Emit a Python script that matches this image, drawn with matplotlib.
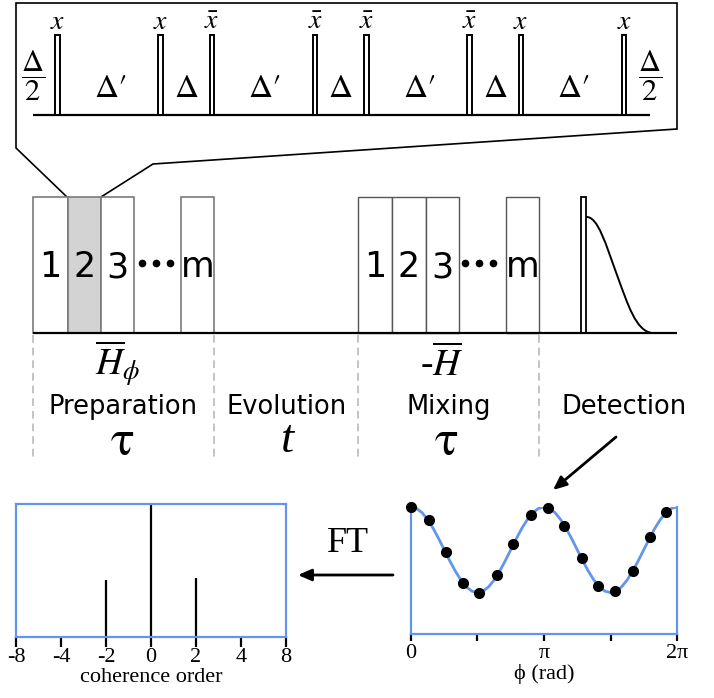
import numpy as np
import matplotlib
matplotlib.use('Agg')
import matplotlib.pyplot as plt
from matplotlib.patches import Rectangle, Polygon, PathPatch
from matplotlib.path import Path

plt.rcParams['mathtext.fontset'] = 'stix'
SERIF = 'Liberation Serif'
STIX = 'STIXGeneral'
SANS = 'DejaVu Sans'
BLUE = '#6495ED'

# ---------------- data ----------------
pulse_phases = [r'$x$', r'$x$', r'$\bar{x}$', r'$\bar{x}$', r'$\bar{x}$', r'$\bar{x}$', r'$x$', r'$x$']
delay_labels = [r'$\dfrac{\Delta}{2}$', 'Δ′', 'Δ', 'Δ′', 'Δ', 'Δ′', 'Δ', 'Δ′', r'$\dfrac{\Delta}{2}$']
cycle_labels = ['1', '2', '3', 'm']
period_names = ['Preparation', 'Evolution', 'Mixing', 'Detection']
period_symbols = ['τ', 't', 'τ']
hamiltonians = [r'$\overline{H}_{\phi}$', r'-$\overline{H}$']

coherence_ticks = [-8, -4, -2, 0, 2, 4, 8]
coherence_orders = [-2, 0, 2]
coherence_amps = [0.43, 1.0, 0.44]

phi_dots_over_pi = [0, 0.1325, 0.2625, 0.39, 0.5125, 0.645, 0.77, 0.9, 1.0275,
                    1.1525, 1.2825, 1.4075, 1.5375, 1.67, 1.795, 1.92]
signal_dots = [1.0, 0.895, 0.642, 0.405, 0.326, 0.461, 0.711, 0.939, 0.989,
               0.853, 0.595, 0.379, 0.342, 0.5, 0.763, 0.961]
fit_half = [1.000, 0.989, 0.955, 0.901, 0.832, 0.750, 0.663, 0.576, 0.495, 0.425,
            0.371, 0.337, 0.326, 0.337, 0.371, 0.425, 0.495, 0.576, 0.663, 0.750,
            0.832, 0.901, 0.955, 0.989]
fit_curve = fit_half + fit_half + [1.000]
phase_ticks_over_pi = [0, 0.5, 1, 1.5, 2]
phase_tick_labels = ['0', '', 'π', '', '2π']

# ---------------- figure ----------------
W, H = 714, 698
fig = plt.figure(figsize=(W / 100, H / 100), dpi=100)
ax = fig.add_axes([0, 0, 1, 1])
ax.set_xlim(0, W)
ax.set_ylim(H, 0)
ax.axis('off')

# ---- inset (zoomed cycle) ----
outline = [(67, 197), (16, 148), (16, 3), (677, 3), (677, 129), (153, 164), (101, 197)]
ax.add_patch(Polygon(outline, closed=False, fill=False, ec='black', lw=1.2))

base_y, top_y = 115, 35
x_start, x_end = 33, 650
half, dl, d = 24.5, 103.2, 51.3
intervals = [half, dl, d, dl, d, dl, d, dl]
centers = []
pos = x_start
for iv in intervals:
    pos += iv
    centers.append(pos)
ax.plot([x_start, x_end], [base_y, base_y], color='black', lw=1.6, solid_capstyle='butt')
pw = 4.5
for c, lab in zip(centers, pulse_phases):
    ax.add_patch(Rectangle((c - pw / 2, top_y), pw, base_y - top_y, fc='white', ec='black', lw=1.4, zorder=3))
    ax.text(c, 29, lab, ha='center', va='baseline', fontsize=20)
edges = [x_start] + centers + [x_end]
n = len(delay_labels)
for i, lab in enumerate(delay_labels):
    if i == 0:
        ax.text(33, 76, lab, ha='center', va='center', fontsize=22)
    elif i == n - 1:
        ax.text(650, 76, lab, ha='center', va='center', fontsize=22)
    else:
        xm = (edges[i] + edges[i + 1]) / 2
        ax.text(xm + (2 if '′' in lab else 0), 97, lab, ha='center', va='baseline', fontsize=24, family=STIX)

# ---- middle sequence ----
seq_base, seq_top = 333, 197
ax.plot([33, 677], [seq_base, seq_base], color='black', lw=1.6, solid_capstyle='butt', zorder=4)
prep_blocks = [(33, 68), (68, 101), (101, 134), (181, 214)]
mix_blocks = [(358, 392), (392, 426), (426, 459), (506, 539)]
for i, (x0, x1) in enumerate(prep_blocks):
    ax.add_patch(Rectangle((x0, seq_top), x1 - x0, seq_base - seq_top,
                           fc='#d3d3d3' if i == 1 else 'white', ec='#7a7a7a', lw=1.2, zorder=2))
    ax.text((x0 + x1) / 2, 267, cycle_labels[i], ha='center', va='center', fontsize=25, family=SANS, zorder=3)
for i, (x0, x1) in enumerate(mix_blocks):
    ax.add_patch(Rectangle((x0, seq_top), x1 - x0, seq_base - seq_top,
                           fc='white', ec='#555555', lw=1.0, zorder=2))
    ax.text((x0 + x1) / 2, 267, cycle_labels[i], ha='center', va='center', fontsize=25, family=SANS, zorder=3)
ax.plot([142, 156, 170], [263, 263, 263], 'o', color='black', ms=4.5, zorder=3)
ax.plot([465, 479, 493], [263, 263, 263], 'o', color='black', ms=4.5, zorder=3)

# detection pulse + FID
ax.add_patch(Rectangle((581, 197), 5, seq_base - 197, fc='white', ec='black', lw=1.3, zorder=3))
verts = [(586, 217), (598, 216), (606, 245), (617, 275), (628, 305), (636, 331), (652, 333)]
codes = [Path.MOVETO] + [Path.CURVE4] * 6
ax.add_patch(PathPatch(Path(verts, codes), fill=False, ec='black', lw=1.4, zorder=3))

# dashed separators
for xv in [33, 214, 358, 539]:
    ax.plot([xv, xv], [335, 458], color='#c4c4c4', lw=1.4, ls=(0, (4, 2.5)), zorder=1)

# labels
ax.text(118, 363, hamiltonians[0], ha='center', va='center', fontsize=27)
ax.text(442, 365, hamiltonians[1], ha='center', va='center', fontsize=27,
        family=SERIF, style='italic')
name_x = [123, 287, 449, 624]
for nx, nm in zip(name_x, period_names):
    ax.text(nx, 407, nm, ha='center', va='center', fontsize=18.5, family=SANS)
sym_x = [123, 287, 447]
for sx, sy in zip(sym_x, period_symbols):
    if sy == 't':
        ax.text(sx, 441, sy, ha='center', va='center', fontsize=34, family=SERIF, style='italic')
    else:
        ax.text(sx, 443, sy, ha='center', va='center', fontsize=36, family=STIX)

# arrows
ax.annotate('', xy=(553, 490), xytext=(616, 437),
            arrowprops=dict(arrowstyle='-|>,head_length=0.8,head_width=0.35', color='black', lw=2, shrinkA=0, shrinkB=0))
ax.annotate('', xy=(298, 575), xytext=(393, 575),
            arrowprops=dict(arrowstyle='-|>,head_length=0.8,head_width=0.35', color='black', lw=2, shrinkA=0, shrinkB=0))
ax.text(348, 543, 'FT', ha='center', va='center', fontsize=26, family=SERIF)

# ---- coherence order spectrum ----
def fax(l, r, t, b):
    return fig.add_axes([l / W, 1 - b / H, (r - l) / W, (b - t) / H])

ax1 = fax(16, 286, 504, 637)
tick_pos = list(range(len(coherence_ticks)))
stem_pos = [coherence_ticks.index(o) for o in coherence_orders]
ax1.vlines(stem_pos, 0, coherence_amps, color='black', lw=1.6)
ax1.set_xlim(0, len(coherence_ticks) - 1)
ax1.set_ylim(0, 1)
ax1.set_xticks(tick_pos)
ax1.set_xticklabels([str(t) for t in coherence_ticks], family=SERIF, fontsize=16)
ax1.set_yticks([])
for s in ax1.spines.values():
    s.set_color(BLUE)
    s.set_linewidth(1.6)
ax1.tick_params(axis='x', direction='out', length=7, width=1.6, color='black', pad=1)
ax1.set_xlabel('coherence order', family=SERIF, fontsize=16, labelpad=1)

# ---- phase signal ----
ax2 = fax(411, 677, 507, 634)
phi_curve = np.linspace(0, 2 * np.pi, len(fit_curve))
ax2.plot(phi_curve, fit_curve, color=BLUE, lw=2, zorder=2)
ax2.plot(np.array(phi_dots_over_pi) * np.pi, signal_dots, 'o', color='black', ms=7, zorder=3, clip_on=False)
ax2.set_xlim(0, 2 * np.pi)
ax2.set_ylim(0, 1)
ax2.set_xticks(np.array(phase_ticks_over_pi) * np.pi)
ax2.set_xticklabels(phase_tick_labels, family=SERIF, fontsize=16)
ax2.set_yticks([])
ax2.spines['top'].set_visible(False)
for k in ['left', 'right', 'bottom']:
    ax2.spines[k].set_color(BLUE)
    ax2.spines[k].set_linewidth(1.6)
ax2.tick_params(axis='x', direction='out', length=5, width=1.6, color='black', pad=2)
ax2.set_xlabel('ϕ (rad)', family=SERIF, fontsize=16, labelpad=1)

fig.savefig('out.png', dpi=100)
